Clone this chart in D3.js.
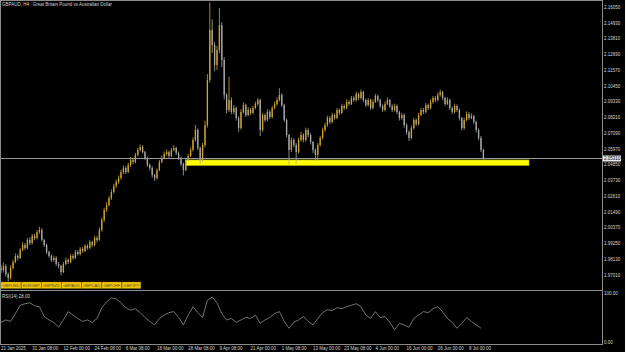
<!DOCTYPE html>
<html>
<head>
<meta charset="utf-8">
<script src="https://cdn.jsdelivr.net/npm/d3@7"></script>
<style>
  html, body { margin: 0; padding: 0; background: #000; }
  svg { display: block; }
  text { font-family: "Liberation Sans", Arial, sans-serif; }
</style>
</head>
<body>
<div id="chart"></div>
<script>
var firstOpen = 1.9752;
var closes = [
  1.9737,1.9766,1.9709,1.9680,1.9752,1.9794,1.9837,1.9823,1.9880,1.9915,
  1.9894,1.9951,1.9929,1.9979,1.9965,2.0007,2.0022,1.9951,1.9915,1.9865,
  1.9837,1.9808,1.9823,1.9780,1.9766,1.9723,1.9780,1.9808,1.9794,1.9837,
  1.9823,1.9865,1.9851,1.9887,1.9872,1.9908,1.9894,1.9936,1.9915,1.9965,
  1.9951,2.0022,2.0093,2.0164,2.0199,2.0249,2.0292,2.0335,2.0363,2.0391,
  2.0434,2.0463,2.0434,2.0484,2.0519,2.0505,2.0555,2.0591,2.0612,2.0576,
  2.0534,2.0484,2.0463,2.0413,2.0391,2.0448,2.0505,2.0534,2.0562,2.0576,
  2.0548,2.0591,2.0605,2.0569,2.0534,2.0491,2.0448,2.0519,2.0548,2.0591,
  2.0662,2.0733,2.0605,2.0519,2.0626,2.0768,2.1088,2.1444,2.1337,2.1195,
  2.1302,2.1479,2.1230,2.0982,2.0875,2.0946,2.0861,2.0889,2.0818,2.0747,
  2.0861,2.0910,2.0839,2.0875,2.0854,2.0889,2.0918,2.0946,2.0733,2.0839,
  2.0804,2.0861,2.0825,2.0889,2.0918,2.0946,2.0982,2.0910,2.0804,2.0697,
  2.0591,2.0662,2.0626,2.0576,2.0662,2.0697,2.0662,2.0733,2.0697,2.0647,
  2.0591,2.0555,2.0626,2.0676,2.0733,2.0768,2.0818,2.0790,2.0839,2.0818,
  2.0875,2.0854,2.0903,2.0889,2.0932,2.0918,2.0960,2.0946,2.0989,2.0960,
  2.1003,2.0946,2.0910,2.0946,2.0889,2.0932,2.0974,2.0946,2.0903,2.0875,
  2.0918,2.0946,2.0903,2.0875,2.0903,2.0861,2.0818,2.0839,2.0768,2.0718,
  2.0676,2.0747,2.0804,2.0775,2.0839,2.0875,2.0861,2.0910,2.0889,2.0932,
  2.0960,2.0946,2.0982,2.1003,2.0960,2.0918,2.0946,2.0889,2.0861,2.0903,
  2.0875,2.0818,2.0747,2.0804,2.0846,2.0818,2.0832,2.0790,2.0733,2.0676,
  2.0591,2.0531
];
var highs = [
  1.9775,1.9790,1.9780,1.9720,1.9770,1.9810,1.9855,1.9850,1.9895,1.9935,
  1.9930,1.9965,1.9970,1.9995,1.9995,2.0020,2.0045,2.0035,1.9960,1.9925,
  1.9875,1.9850,1.9840,1.9835,1.9795,1.9775,1.9795,1.9825,1.9820,1.9850,
  1.9850,1.9880,1.9878,1.9900,1.9900,1.9920,1.9920,1.9950,1.9945,1.9980,
  1.9980,2.0040,2.0110,2.0180,2.0220,2.0265,2.0310,2.0350,2.0380,2.0410,
  2.0450,2.0480,2.0475,2.0500,2.0540,2.0535,2.0570,2.0605,2.0630,2.0625,
  2.0585,2.0545,2.0495,2.0475,2.0420,2.0460,2.0520,2.0550,2.0580,2.0595,
  2.0585,2.0605,2.0625,2.0615,2.0580,2.0545,2.0500,2.0535,2.0565,2.0610,
  2.0680,2.0770,2.0745,2.0615,2.0640,2.0800,2.1130,2.1640,2.1520,2.1360,
  2.1330,2.1600,2.1500,2.1250,2.0995,2.1110,2.0965,2.0910,2.0900,2.0830,
  2.0880,2.0930,2.0920,2.0895,2.0890,2.0905,2.0935,2.0960,2.0955,2.0855,
  2.0850,2.0880,2.0875,2.0905,2.0935,2.0965,2.1030,2.0995,2.0920,2.0815,
  2.0705,2.0680,2.0675,2.0640,2.0680,2.0720,2.0710,2.0750,2.0745,2.0710,
  2.0655,2.0600,2.0640,2.0690,2.0750,2.0785,2.0835,2.0830,2.0855,2.0850,
  2.0890,2.0885,2.0920,2.0915,2.0950,2.0945,2.0975,2.0975,2.1005,2.1000,
  2.1020,2.1010,2.0955,2.0960,2.0955,2.0950,2.0990,2.0985,2.0955,2.0915,
  2.0935,2.0965,2.0955,2.0915,2.0920,2.0915,2.0870,2.0855,2.0850,2.0780,
  2.0730,2.0765,2.0820,2.0815,2.0855,2.0890,2.0890,2.0925,2.0920,2.0950,
  2.0975,2.0975,2.1000,2.1020,2.1010,2.0970,2.0965,2.0955,2.0900,2.0920,
  2.0915,2.0885,2.0825,2.0820,2.0865,2.0860,2.0850,2.0840,2.0800,2.0745,
  2.0690,2.0600
];
var lows = [
  1.9715,1.9720,1.9690,1.9655,1.9670,1.9740,1.9785,1.9805,1.9815,1.9870,
  1.9880,1.9885,1.9915,1.9920,1.9950,1.9955,1.9995,1.9940,1.9900,1.9850,
  1.9825,1.9795,1.9795,1.9765,1.9750,1.9700,1.9715,1.9770,1.9780,1.9785,
  1.9810,1.9815,1.9840,1.9840,1.9860,1.9865,1.9880,1.9885,1.9900,1.9905,
  1.9935,1.9945,2.0010,2.0080,2.0150,2.0190,2.0235,2.0280,2.0320,2.0350,
  2.0380,2.0420,2.0420,2.0425,2.0470,2.0490,2.0495,2.0545,2.0580,2.0565,
  2.0520,2.0470,2.0445,2.0395,2.0370,2.0380,2.0440,2.0495,2.0525,2.0550,
  2.0535,2.0540,2.0580,2.0555,2.0520,2.0475,2.0410,2.0440,2.0510,2.0540,
  2.0580,2.0650,2.0590,2.0490,2.0505,2.0610,2.0750,2.1070,2.1280,2.1150,
  2.1160,2.1280,2.1180,2.0950,2.0850,2.0860,2.0845,2.0845,2.0800,2.0720,
  2.0735,2.0850,2.0825,2.0830,2.0840,2.0845,2.0880,2.0905,2.0690,2.0720,
  2.0790,2.0795,2.0810,2.0815,2.0880,2.0905,2.0935,2.0895,2.0790,2.0680,
  2.0485,2.0575,2.0610,2.0490,2.0565,2.0650,2.0645,2.0650,2.0680,2.0630,
  2.0570,2.0515,2.0515,2.0615,2.0665,2.0720,2.0755,2.0775,2.0780,2.0805,
  2.0810,2.0840,2.0845,2.0875,2.0880,2.0905,2.0910,2.0930,2.0935,2.0945,
  2.0950,2.0930,2.0895,2.0900,2.0875,2.0880,2.0925,2.0930,2.0890,2.0860,
  2.0865,2.0910,2.0890,2.0860,2.0865,2.0845,2.0800,2.0805,2.0750,2.0700,
  2.0655,2.0665,2.0735,2.0760,2.0765,2.0830,2.0845,2.0850,2.0875,2.0880,
  2.0920,2.0930,2.0935,2.0970,2.0945,2.0905,2.0910,2.0875,2.0845,2.0850,
  2.0860,2.0800,2.0730,2.0735,2.0795,2.0805,2.0810,2.0775,2.0715,2.0660,
  2.0575,2.0520
];
// RSI(14), one point every second bar
var rsiValues = [
  40,45,42,58,75,78,80,74,72,52,
  45,40,30,45,62,55,48,42,45,40,
  48,70,82,90,88,80,70,65,68,60,
  50,42,35,48,55,60,62,50,35,55,
  72,60,50,85,92,80,58,45,48,40,
  45,50,48,55,38,45,50,58,62,42,
  28,40,45,52,42,35,48,60,66,64,
  70,68,72,75,78,72,55,48,62,50,
  52,40,25,38,35,30,48,55,62,60,
  68,72,62,48,40,28,38,50,42,35,
  28
];
var priceTicks = [2.16050,2.14930,2.13810,2.12690,2.11570,2.10450,2.09330,2.08210,2.07090,
  2.05970,2.04850,2.03730,2.02610,2.01490,2.00370,1.99250,1.98130,1.97010];
var rsiTicks = [100, 0];
var dateLabels = ["21 Jan 2025","31 Jan 08:00","12 Feb 00:00","24 Feb 08:00","6 Mar 08:00",
  "18 Mar 00:00","28 Mar 08:00","9 Apr 08:00","21 Apr 00:00","1 May 08:00","13 May 00:00",
  "23 May 08:00","4 Jun 00:00","16 Jun 00:00","26 Jun 00:00","8 Jul 00:00"];
var dateBars = [0,13,26,39,52,65,78,91,104,117,130,143,156,169,182,195];
var symbols = ["GBPUSD","EURGBP","GBPNZD","GBPAUD","GBPCAD","GBPCHF","GBPJPY"];
var zoneBars = [77, 220];
var zonePrices = [2.0480, 2.0520];
var bidPrice = 2.0531;
var rsiLast = 28.00;

var W = 625, H = 352, axisX = 602, sepY = 290, bottomY = 344;
var upCol = "#cfa52a", downCol = "#aaaaaa", frameCol = "#8c8c8c", txtCol = "#d4d4d4";

var svg = d3.select("#chart").append("svg")
  .attr("width", W).attr("height", H)
  .style("background", "#000");

var x = d3.scaleLinear().domain([0, closes.length - 1]).range([1, 483.4]);
var y = d3.scaleLinear().domain([1.9601, 2.1657]).range([289.2, 0]);
var xr = d3.scaleLinear().domain([0, rsiValues.length - 1]).range([x(0), x((rsiValues.length - 1) * 2)]);
var yr = d3.scaleLinear().domain([0, 100]).range([342, 293]);

svg.append("clipPath").attr("id", "main-clip")
  .append("rect").attr("x", 0).attr("y", 0).attr("width", axisX).attr("height", sepY);

var main = svg.append("g").attr("clip-path", "url(#main-clip)");

// yellow support zone
main.append("rect")
  .attr("x", x(zoneBars[0]))
  .attr("y", y(zonePrices[1]))
  .attr("width", x(zoneBars[1]) - x(zoneBars[0]))
  .attr("height", y(zonePrices[0]) - y(zonePrices[1]))
  .attr("fill", "#ffff00")
  .attr("stroke", "#a8a800")
  .attr("stroke-width", 0.6);

// bid line
var by = Math.round(y(bidPrice)) + 0.5;
svg.append("line")
  .attr("x1", 0).attr("x2", axisX).attr("y1", by).attr("y2", by)
  .attr("stroke", "#9a9a9a").attr("stroke-width", 1);

var bars = closes.map(function (c, i) {
  return { i: i, o: i ? closes[i - 1] : firstOpen, c: c, h: highs[i], l: lows[i] };
});

var candle = main.append("g").selectAll("g").data(bars).enter().append("g");
candle.append("line")
  .attr("x1", function (d) { return x(d.i); })
  .attr("x2", function (d) { return x(d.i); })
  .attr("y1", function (d) { return y(d.h); })
  .attr("y2", function (d) { return y(d.l); })
  .attr("stroke", function (d) { return d.c >= d.o ? upCol : downCol; })
  .attr("stroke-width", 0.8);
candle.append("rect")
  .attr("x", function (d) { return x(d.i) - 0.65; })
  .attr("width", 1.3)
  .attr("y", function (d) { return y(Math.max(d.o, d.c)); })
  .attr("height", function (d) { return Math.max(0.8, Math.abs(y(d.o) - y(d.c))); })
  .attr("fill", function (d) { return d.c >= d.o ? upCol : downCol; });

// RSI line
svg.append("path")
  .datum(rsiValues)
  .attr("fill", "none")
  .attr("stroke", "#a0a0a0")
  .attr("stroke-width", 0.7)
  .attr("d", d3.line().x(function (d, i) { return xr(i); }).y(function (d) { return yr(d); }));

// frames
var frame = svg.append("g").attr("stroke", frameCol).attr("stroke-width", 1).attr("fill", "none");
frame.append("rect").attr("x", 0.5).attr("y", 0.5).attr("width", axisX).attr("height", bottomY);
frame.append("line").attr("x1", 0).attr("x2", axisX).attr("y1", sepY + 0.5).attr("y2", sepY + 0.5);

// price axis labels
svg.append("g").selectAll("text").data(priceTicks).enter().append("text")
  .attr("x", axisX + 2)
  .attr("y", function (d) { return y(d); })
  .attr("dy", "0.35em")
  .attr("font-size", 4.5)
  .attr("fill", txtCol)
  .text(function (d) { return d3.format(".5f")(d); });

// bid label
svg.append("rect")
  .attr("x", axisX + 1).attr("y", by - 3).attr("width", 18).attr("height", 6)
  .attr("fill", "#e8e8e8");
svg.append("text")
  .attr("x", axisX + 2).attr("y", by).attr("dy", "0.35em")
  .attr("font-size", 4.5).attr("fill", "#000")
  .text(d3.format(".5f")(bidPrice));

// RSI axis labels
svg.append("g").selectAll("text").data(rsiTicks).enter().append("text")
  .attr("x", axisX + 2)
  .attr("y", function (d) { return yr(d); })
  .attr("dy", "0.35em")
  .attr("font-size", 4.5)
  .attr("fill", txtCol)
  .text(function (d) { return d3.format(".2f")(d); });

// date labels
svg.append("g").selectAll("text").data(dateLabels).enter().append("text")
  .attr("x", function (d, i) { return x(dateBars[i]); })
  .attr("y", 350)
  .attr("font-size", 4.5)
  .attr("fill", txtCol)
  .text(function (d) { return d; });

// title and RSI caption
svg.append("text")
  .attr("x", 2).attr("y", 6)
  .attr("font-size", 4.5).attr("fill", txtCol)
  .style("white-space", "pre")
  .text("GBPAUD, H4:  Great Britain Pound vs Australian Dollar");
svg.append("text")
  .attr("x", 2).attr("y", 297.5)
  .attr("font-size", 4.5).attr("fill", txtCol)
  .text("RSI(14) " + d3.format(".2f")(rsiLast));

// symbol buttons
var bx = 1;
symbols.forEach(function (s) {
  var g = svg.append("g");
  var r = g.append("rect").attr("y", 282).attr("height", 6.5)
    .attr("fill", "#f2c500").attr("stroke", "#8a7000").attr("stroke-width", 0.4);
  var t = g.append("text").attr("y", 286.8).attr("font-size", 4)
    .attr("fill", "#4a4a4a").text(s);
  var w = t.node().getComputedTextLength() + 3;
  r.attr("x", bx).attr("width", w);
  t.attr("x", bx + 1.5);
  bx += w + 0.4;
});
</script>
</body>
</html>
